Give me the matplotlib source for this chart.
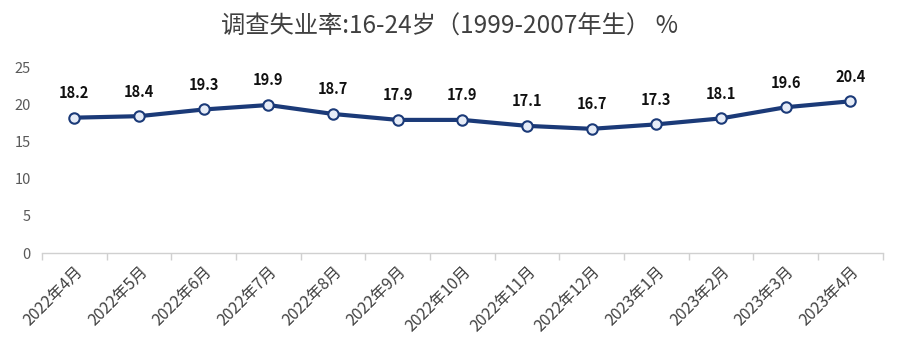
import matplotlib
matplotlib.use("Agg")
import matplotlib.pyplot as plt
import numpy as np

plt.rcParams['font.family'] = ['Noto Sans CJK SC', 'DejaVu Sans']

months = ["2022年4月", "2022年5月", "2022年6月", "2022年7月", "2022年8月", "2022年9月",
          "2022年10月", "2022年11月", "2022年12月", "2023年1月", "2023年2月", "2023年3月", "2023年4月"]
rates = [18.2, 18.4, 19.3, 19.9, 18.7, 17.9, 17.9, 17.1, 16.7, 17.3, 18.1, 19.6, 20.4]
yticks = [0, 5, 10, 15, 20, 25]
title = "调查失业率:16-24岁（1999-2007年生） %"

fig = plt.figure(figsize=(9, 3.53), dpi=100)
ax = fig.add_axes([0.0467, 0.283, 0.934, 0.527])

x = np.arange(len(months))
line_color = "#1B3A78"
ax.plot(x, rates, color=line_color, lw=3, marker='o', markersize=7.5,
        markerfacecolor="#E6ECF7", markeredgecolor=line_color, markeredgewidth=1.5, zorder=3)

for xi, v in zip(x, rates):
    ax.annotate(f"{v:.1f}", (xi, v), xytext=(0, 12), textcoords='offset points',
                ha='center', va='bottom', fontsize=10.5, fontweight='bold', color='#111111')

ax.set_xlim(-0.5, len(months) - 0.5)
ax.set_ylim(0, 25)
ax.set_yticks(yticks)
ax.set_yticklabels([str(t) for t in yticks], fontsize=10.5, color='#595959')

ax.set_xticks(x)
ax.set_xticklabels(months, rotation=45, ha='right', rotation_mode='anchor',
                   fontsize=11.5, color='#404040')
ax.tick_params(axis='x', length=0, pad=7)
ax.set_xticks(np.arange(len(months) + 1) - 0.5, minor=True)
ax.tick_params(axis='x', which='minor', length=5, color='#D0D0D0', width=1)
ax.tick_params(axis='y', length=0, pad=8)

for s in ['top', 'right', 'left']:
    ax.spines[s].set_visible(False)
ax.spines['bottom'].set_color('#D0D0D0')
ax.spines['bottom'].set_linewidth(1)

fig.text(0.5, 0.925, title, ha='center', va='center', fontsize=17.5, color='#404040')

fig.savefig("out.png", dpi=100)
